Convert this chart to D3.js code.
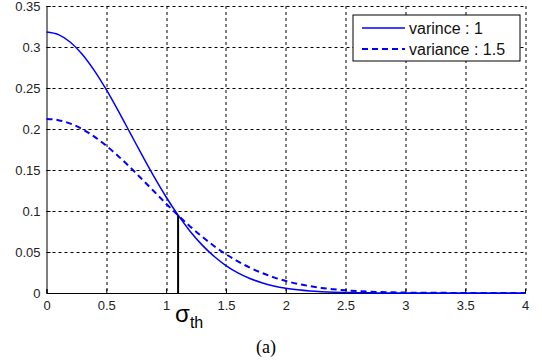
<!DOCTYPE html>
<html>
<head>
<meta charset="utf-8">
<script src="https://cdn.jsdelivr.net/npm/d3@7"></script>
<style>
  body { margin: 0; background: #fff; }
  svg text { font-family: Arial, "Liberation Sans", sans-serif; }
</style>
</head>
<body>
<svg id="chart" width="542" height="361"></svg>
<script>
const xs = d3.range(0, 41).map(i => i / 10);
const var1 = [0.3183, 0.3151, 0.3058, 0.2909, 0.2712, 0.2479, 0.2221, 0.1950, 0.1678, 0.1416,
  0.1171, 0.0949, 0.0754, 0.0587, 0.0448, 0.0335, 0.0246, 0.0177, 0.0125, 0.0086,
  0.0058, 0.0039, 0.0025, 0.0016, 0.0010, 0.0006, 0.0004, 0.0002, 0.0001, 0.0001,
  0, 0, 0, 0, 0, 0, 0, 0, 0, 0, 0];
const var15 = [0.2122, 0.2108, 0.2066, 0.1998, 0.1907, 0.1796, 0.1669, 0.1531, 0.1385, 0.1237,
  0.1089, 0.0947, 0.0812, 0.0688, 0.0574, 0.0473, 0.0385, 0.0309, 0.0245, 0.0191,
  0.0147, 0.0112, 0.0084, 0.0062, 0.0046, 0.0033, 0.0023, 0.0016, 0.0011, 0.0008,
  0.0005, 0.0004, 0.0002, 0.0002, 0.0001, 0.0001, 0, 0, 0, 0, 0];
const xTicks = [0, 0.5, 1, 1.5, 2, 2.5, 3, 3.5, 4];
const yTicks = [0, 0.05, 0.1, 0.15, 0.2, 0.25, 0.3, 0.35];
const legendLabels = ["varince : 1", "variance : 1.5"];
const sigmaTh = { x: 1.1, y: 0.0948 };

const margin = {top: 6, right: 17, bottom: 68, left: 46.5};
const W = 542, H = 361;
const width = W - margin.left - margin.right;
const height = H - margin.top - margin.bottom;

const svg = d3.select("#chart");
const g = svg.append("g").attr("transform", "translate(" + margin.left + "," + margin.top + ")");

const x = d3.scaleLinear().domain([0, 4]).range([0, width]);
const y = d3.scaleLinear().domain([0, 0.35]).range([height, 0]);

// grid
g.selectAll(".vgrid").data(xTicks.slice(1)).enter().append("line")
  .attr("x1", d => Math.round(x(d)) + 0.5).attr("x2", d => Math.round(x(d)) + 0.5)
  .attr("y1", 0).attr("y2", height)
  .attr("stroke", "#000").attr("stroke-width", 1).attr("stroke-dasharray", "3,3");
g.selectAll(".hgrid").data(yTicks.slice(1)).enter().append("line")
  .attr("y1", d => Math.round(y(d)) + 0.5).attr("y2", d => Math.round(y(d)) + 0.5)
  .attr("x1", 0).attr("x2", width)
  .attr("stroke", "#000").attr("stroke-width", 1).attr("stroke-dasharray", "3,3");

// axes
const xAxis = d3.axisBottom(x).tickValues(xTicks).tickFormat(d3.format("")).tickSize(-4).tickPadding(8);
const yAxis = d3.axisLeft(y).tickValues(yTicks).tickFormat(d3.format("")).tickSize(-4).tickPadding(6);
const gx = g.append("g").attr("transform", "translate(0," + height + ")").call(xAxis);
const gy = g.append("g").call(yAxis);
[gx, gy].forEach(a => {
  a.select(".domain").attr("stroke", "#000");
  a.selectAll(".tick line").attr("stroke", "#000");
  a.selectAll("text").attr("font-size", 13).attr("fill", "#222")
    .style("font-family", "Arial, 'Liberation Sans', sans-serif");
});

// curves
const line = d3.line().x((d, i) => x(xs[i])).y(d => y(d)).curve(d3.curveMonotoneX);
g.append("path").datum(var1).attr("d", line)
  .attr("fill", "none").attr("stroke", "#0000ff").attr("stroke-width", 1.5);
g.append("path").datum(var15).attr("d", line)
  .attr("fill", "none").attr("stroke", "#0000ff").attr("stroke-width", 2)
  .attr("stroke-dasharray", "6,4");

// threshold line
g.append("line")
  .attr("x1", x(sigmaTh.x)).attr("x2", x(sigmaTh.x))
  .attr("y1", y(0)).attr("y2", y(sigmaTh.y))
  .attr("stroke", "#000").attr("stroke-width", 2);

// legend
const lg = svg.append("g").attr("transform", "translate(353,15)");
lg.append("rect").attr("width", 167).attr("height", 46)
  .attr("fill", "#fff").attr("stroke", "#000").attr("stroke-width", 1);
legendLabels.forEach((lab, i) => {
  const yy = 13 + i * 21;
  lg.append("line").attr("x1", 9).attr("x2", 52).attr("y1", yy).attr("y2", yy)
    .attr("stroke", "#0000ff").attr("stroke-width", i ? 2 : 1.5)
    .attr("stroke-dasharray", i ? "6,4" : null);
  lg.append("text").attr("x", 56).attr("y", yy + 5.5).attr("font-size", 16)
    .attr("fill", "#111").text(lab);
});

// sigma_th label
const st = svg.append("text").attr("x", margin.left + x(sigmaTh.x) - 3).attr("y", 322)
  .attr("fill", "#000");
st.append("tspan").attr("font-size", 24).text("σ");
st.append("tspan").attr("font-size", 16).attr("dy", 6).text("th");

// caption
svg.append("text").attr("x", 266).attr("y", 353).attr("text-anchor", "middle")
  .attr("font-size", 18).style("font-family", "'Liberation Serif', 'Times New Roman', serif")
  .text("(a)");
</script>
</body>
</html>
